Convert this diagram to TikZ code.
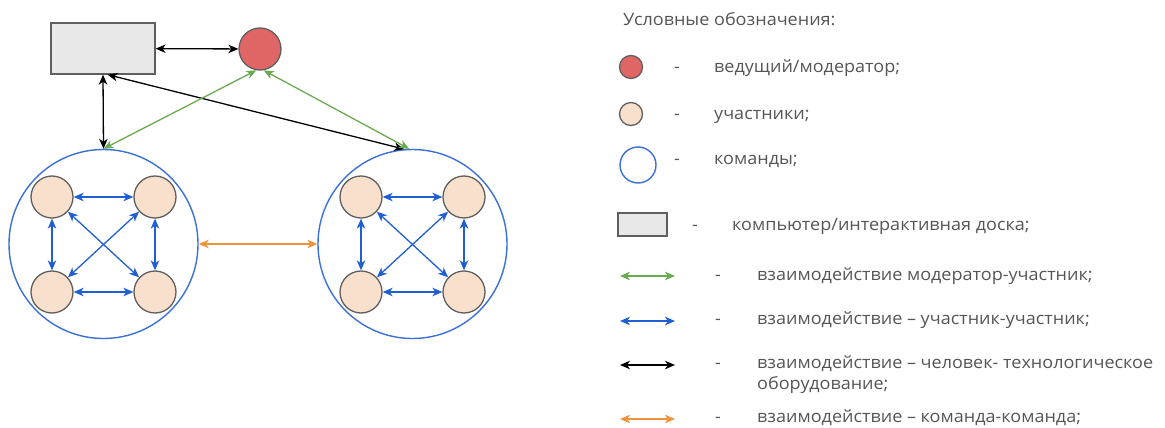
\documentclass[tikz,border=0pt]{standalone}
\usepackage{fontspec}
\setmainfont[FakeStretch=1.06]{Open Sans}
\usetikzlibrary{arrows.meta}
\definecolor{txt}{HTML}{555555}
\definecolor{edge}{HTML}{5F5F5F}
\definecolor{peach}{HTML}{F9E0CC}
\definecolor{modred}{HTML}{E06666}
\definecolor{boardfill}{HTML}{E8E8E8}
\definecolor{teamblue}{HTML}{3B70D8}
\definecolor{pblue}{HTML}{1F5FD2}
\definecolor{mgreen}{HTML}{6AAA50}
\definecolor{torange}{HTML}{F0923A}
\tikzset{
  person/.style={circle, draw=edge, line width=1.3pt, fill=peach, minimum size=42pt, inner sep=0pt},
  moder/.style={circle, draw=edge, line width=1.3pt, fill=modred, minimum size=42pt, inner sep=0pt},
  team/.style={circle, draw=teamblue, line width=1.4pt, minimum size=189pt, inner sep=0pt},
  board/.style={rectangle, draw=edge, line width=1.3pt, fill=boardfill, minimum width=104pt, minimum height=51pt, inner sep=0pt},
  link/.style={line width=1.3pt, {Stealth[length=10pt,width=8.5pt,inset=3pt]}-{Stealth[length=10pt,width=8.5pt,inset=3pt]}},
  lbl/.style={font=\fontsize{17}{20}\selectfont, text=txt, inner sep=0pt},
}
\begin{document}
\begin{tikzpicture}[x=1pt,y=-1pt]
\useasboundingbox (0,0) rectangle (1165,428);
% main diagram
\node[board] (comp) at (103,48.5) {};
\node[moder] (mod) at (260,49) {};
\node[team] (teamL) at (103.5,244) {};
\node[team] (teamR) at (412.5,244) {};
\foreach \t/\cx in {L/103.5,R/412.5}{
  \node[person] (tl\t) at (\cx-51.5,197) {};
  \node[person] (tr\t) at (\cx+51.5,197) {};
  \node[person] (bl\t) at (\cx-51.5,292) {};
  \node[person] (br\t) at (\cx+51.5,292) {};
  \draw[link, pblue] (tl\t) -- (tr\t);
  \draw[link, pblue] (bl\t) -- (br\t);
  \draw[link, pblue] (tl\t) -- (bl\t);
  \draw[link, pblue] (tr\t) -- (br\t);
  \draw[link, pblue] (tl\t) -- (br\t);
  \draw[link, pblue] (tr\t) -- (bl\t);
}
\draw[link, black] (comp) -- (mod);
\draw[link, black] (comp.south) -- (teamL.north);
\draw[link, black] (comp.-80) -- (teamR.95);
\draw[link, mgreen] (mod.260) -- (teamL.north);
\draw[link, mgreen] (mod.280) -- (teamR.92);
\draw[link, torange] (teamL.east) -- (teamR.west);
% legend
\node[lbl, anchor=base west] (title) at (623,26) {Условные обозначения:};
\node[moder, minimum size=23pt] (lgmod) at (631,67) {};
\node[person, minimum size=23pt] (lgper) at (631,114) {};
\node[team, minimum size=36pt] (lgteam) at (638,165) {};
\node[board, minimum width=49pt, minimum height=23pt] (lgboard) at (642.5,224.5) {};
\coordinate (g1) at (620,276); \coordinate (g2) at (675,276);
\coordinate (b1) at (620,321); \coordinate (b2) at (675,321);
\coordinate (k1) at (620,365); \coordinate (k2) at (675,365);
\coordinate (o1) at (620,419); \coordinate (o2) at (675,419);
\draw[link, mgreen] (g1) -- (g2);
\draw[link, pblue] (b1) -- (b2);
\draw[link, black] (k1) -- (k2);
\draw[link, torange] (o1) -- (o2);
\foreach \n/\x/\y in {d1/677/73,d2/677/119,d3/677/164,d4/695/230,d5/718/280,d6/718/324,d7/718/368,d8/718/422}{
  \node[lbl, anchor=base] (\n) at (\x,\y) {-};
}
\node[lbl, anchor=base west] (t1) at (714,73) {ведущий/модератор;};
\node[lbl, anchor=base west] (t2) at (714,119) {участники;};
\node[lbl, anchor=base west] (t3) at (714,164) {команды;};
\node[lbl, anchor=base west] (t4) at (732,230) {компьютер/интерактивная доска;};
\node[lbl, anchor=base west] (t5) at (757,280) {взаимодействие модератор-участник;};
\node[lbl, anchor=base west] (t6) at (757,324) {взаимодействие – участник-участник;};
\node[lbl, anchor=base west] (t7) at (757,368) {взаимодействие – человек- технологическое};
\node[lbl, anchor=base west] (t7b) at (757,389) {оборудование;};
\node[lbl, anchor=base west] (t8) at (757,422) {взаимодействие – команда-команда;};
\end{tikzpicture}
\end{document}
